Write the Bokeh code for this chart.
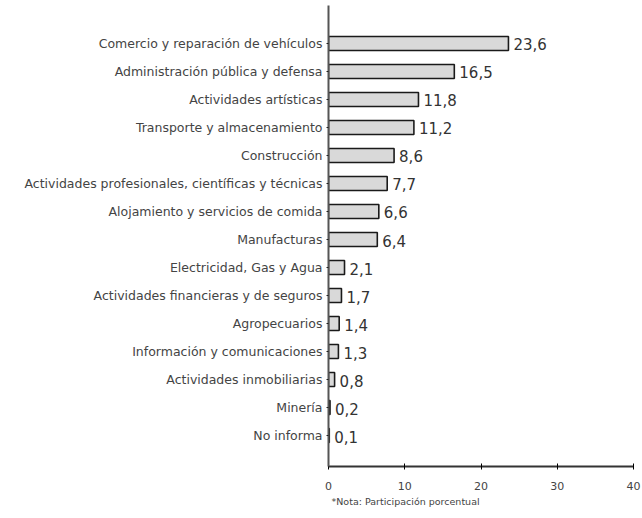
from bokeh.plotting import figure
from bokeh.models import Range1d, FixedTicker, ColumnDataSource, Title
from bokeh.core.properties import value
from bokeh.embed import file_html
from bokeh.resources import INLINE

categories = [
    "Comercio y reparación de vehículos",
    "Administración pública y defensa",
    "Actividades artísticas",
    "Transporte y almacenamiento",
    "Construcción",
    "Actividades profesionales, científicas y técnicas",
    "Alojamiento y servicios de comida",
    "Manufacturas",
    "Electricidad, Gas y Agua",
    "Actividades financieras y de seguros",
    "Agropecuarios",
    "Información y comunicaciones",
    "Actividades inmobiliarias",
    "Minería",
    "No informa",
]
values = [23.6, 16.5, 11.8, 11.2, 8.6, 7.7, 6.6, 6.4, 2.1, 1.7, 1.4, 1.3, 0.8, 0.2, 0.1]
x_ticks = [0, 10, 20, 30, 40]
note = "*Nota: Participación porcentual"

n = len(categories)
ypos = [n - i for i in range(n)]
labels = [f"{v:.1f}".replace(".", ",") for v in values]
src = ColumnDataSource(dict(y=ypos, v=values, lab=labels))

p = figure(width=642, height=518, output_backend="svg", toolbar_location=None,
           x_range=Range1d(0, 40), y_range=Range1d(-0.107, 16.357),
           min_border_left=328, min_border_right=9, min_border_top=5, min_border_bottom=52)
p.outline_line_color = None
p.xgrid.visible = False
p.ygrid.visible = False

p.hbar(y="y", left=0, right="v", height=0.5, source=src,
       fill_color="#d9d9d9", line_color="#1a1a1a", line_width=1.6)
p.text(x="v", y="y", text="lab", source=src, x_offset=5, y_offset=1,
       text_font=value("DejaVu Sans"), text_font_size="15px",
       text_baseline="middle", text_align="left", text_color="#333333")

p.yaxis.ticker = FixedTicker(ticks=ypos)
p.yaxis.major_label_overrides = {y: c for y, c in zip(ypos, categories)}
p.yaxis.major_label_text_font = "DejaVu Sans"
p.yaxis.major_label_text_font_size = "12.5px"
p.yaxis.major_label_text_color = "#444444"
p.yaxis.major_label_standoff = 4
p.yaxis.major_tick_in = 0
p.yaxis.major_tick_out = 2
p.yaxis.minor_tick_line_color = None
p.yaxis.axis_line_color = "#555555"
p.yaxis.axis_line_width = 2
p.yaxis.major_tick_line_color = "#222222"

p.xaxis.ticker = FixedTicker(ticks=x_ticks)
p.xaxis.major_label_text_font = "DejaVu Sans"
p.xaxis.major_label_text_font_size = "11px"
p.xaxis.major_label_text_color = "#444444"
p.xaxis.major_label_standoff = 12
p.xaxis.major_tick_in = 3
p.xaxis.major_tick_out = 3
p.xaxis.minor_tick_line_color = None
p.xaxis.axis_line_color = "#333333"
p.xaxis.axis_line_width = 2

p.add_layout(Title(text=note, align="left", text_font="DejaVu Sans",
                   text_font_size="9.5px", text_font_style="normal",
                   text_color="#444444", standoff=2, offset=3), "below")

open("out.html", "w").write(file_html(p, INLINE))
